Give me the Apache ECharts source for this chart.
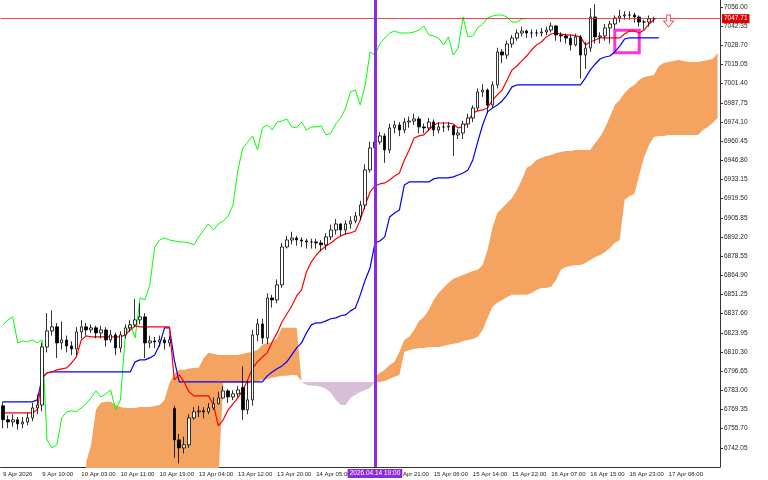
<!DOCTYPE html>
<html><head><meta charset="utf-8">
<script src="https://cdn.jsdelivr.net/npm/echarts@6/dist/echarts.min.js"></script>
<style>html,body{margin:0;padding:0;background:#fff}#c{width:768px;height:480px}</style>
</head><body><div id="c"></div>
<script>
const tickLabels = ["9 Apr 2026","9 Apr 10:00","10 Apr 03:00","10 Apr 11:00","10 Apr 19:00","13 Apr 04:00","13 Apr 12:00","13 Apr 20:00","14 Apr 05:00","14 Apr 13:00","14 Apr 21:00","15 Apr 06:00","15 Apr 14:00","15 Apr 22:00","16 Apr 07:00","16 Apr 15:00","16 Apr 23:00","17 Apr 08:00",""];
const barCount = 147;
const closeV = [6762.0,6760.5,6762.0,6759.1,6760.5,6763.4,6770.5,6772.6,6813.9,6825.3,
6828.2,6816.8,6818.9,6814.6,6812.5,6824.6,6828.2,6826.0,6827.5,6823.9,
6826.0,6818.9,6822.5,6813.2,6822.5,6827.5,6829.6,6833.2,6835.3,6816.8,
6818.2,6817.5,6818.9,6816.8,6818.9,6747.7,6742.0,6744.2,6763.4,6767.7,
6768.4,6767.7,6770.5,6773.4,6777.6,6782.6,6778.3,6780.5,6783.3,6769.1,
6776.2,6822.5,6830.3,6820.3,6848.8,6847.4,6858.1,6885.1,6890.1,6891.5,
6890.1,6889.4,6888.7,6888.7,6888.0,6886.6,6892.3,6897.2,6901.5,6897.2,
6901.5,6903.6,6907.2,6915.0,6940.0,6955.6,6959.9,6964.2,6954.2,6969.9,
6972.0,6968.4,6974.1,6974.8,6976.3,6970.6,6969.9,6974.1,6968.4,6970.6,
6970.6,6971.3,6964.9,6966.3,6972.7,6977.0,6984.1,6995.5,6996.9,6986.2,
7000.5,7024.0,7021.8,7029.7,7033.9,7037.5,7038.9,7037.5,7037.5,7037.5,
7038.2,7039.6,7042.5,7036.1,7035.4,7033.9,7029.0,7034.7,7021.8,7026.8,
7048.9,7034.7,7035.4,7041.1,7043.9,7048.2,7049.6,7050.3,7050.3,7048.9,
7045.3,7045.3,7047.5,7047.71];
const openV = [6772.0,6762.0,6760.5,6762.0,6759.1,6760.5,6763.4,6770.5,6772.6,6813.9,
6825.3,6828.2,6816.8,6818.9,6814.6,6812.5,6824.6,6828.2,6826.0,6827.5,
6823.9,6826.0,6818.9,6822.5,6813.2,6822.5,6827.5,6829.6,6833.2,6835.3,
6816.8,6818.2,6817.5,6818.9,6816.8,6770.0,6747.7,6742.0,6744.2,6763.4,
6767.7,6768.4,6767.7,6770.5,6773.4,6777.6,6782.6,6778.3,6780.5,6785.0,
6769.1,6776.2,6822.5,6830.3,6820.3,6848.8,6847.4,6858.1,6885.1,6890.1,
6891.5,6890.1,6889.4,6888.7,6888.7,6888.0,6886.6,6892.3,6897.2,6901.5,
6897.2,6901.5,6903.6,6907.2,6915.0,6940.0,6955.6,6959.9,6964.2,6954.2,
6969.9,6972.0,6968.4,6974.1,6974.8,6976.3,6970.6,6969.9,6974.1,6968.4,
6970.6,6970.6,6971.3,6964.9,6966.3,6972.7,6977.0,6984.1,6995.5,6996.9,
6986.2,7000.5,7024.0,7021.8,7029.7,7033.9,7037.5,7038.9,7037.5,7037.5,
7037.5,7038.2,7039.6,7042.5,7036.1,7035.4,7033.9,7029.0,7034.7,7021.8,
7026.8,7048.9,7034.7,7035.4,7041.1,7043.9,7048.2,7049.6,7050.3,7050.3,
7048.9,7045.3,7045.3,7047.5];
const highV = [6775,6765,6766,6764,6764,6767,6774,6780,6817,6838,
6840,6831,6832,6822,6818,6828,6833,6831,6830,6829,
6829,6828,6826,6824,6825,6830,6833,6848,6845,6838,
6822,6821,6822,6821,6822,6772,6752,6750,6766,6771,
6772,6771,6774,6778,6782,6786,6784,6783,6786,6800,
6790,6826,6834,6834,6852,6851,6862,6888,6893,6896,
6893,6892,6891,6891,6891,6890,6895,6901,6905,6902,
6904,6907,6910,6918,6944,6960,6966,6967,6966,6973,
6975,6974,6977,6978,6980,6978,6973,6977,6976,6974,
6974,6974,6972,6969,6975,6980,6986,6998,7001,6998,
7003,7027,7026,7032,7036,7040,7042,7040,7040,7040,
7041,7042,7045,7043,7038,7037,7036,7037,7036,7031,
7055,7058,7038,7044,7046,7050,7054,7053,7053,7052,
7050,7047,7050,7049];
const lowV = [6756,6756,6757,6755,6756,6758,6761,6766,6768,6810,
6822,6806,6812,6810,6808,6808,6820,6822,6824,6820,
6820,6814,6817,6808,6810,6820,6825,6828,6830,6806,
6813,6813,6814,6812,6814,6735,6731,6738,6742,6762,
6764,6763,6766,6769,6773,6777,6774,6776,6778,6762,
6766,6772,6818,6816,6816,6842,6845,6856,6884,6887,
6886,6885,6884,6884,6884,6882,6883,6890,6894,6893,
6894,6898,6902,6904,6912,6938,6953,6958,6945,6952,
6966,6964,6966,6970,6972,6966,6966,6968,6964,6966,
6967,6968,6950,6962,6962,6970,6974,6982,6992,6980,
6984,6998,7016,7019,7027,7032,7035,7034,7034,7035,
7035,7036,7038,7032,7031,7030,7025,7028,7005,7012,
7024,7030,7030,7032,7030,7040,7045,7047,7047,7045,
7042,7040,7042,7045];
const tenkanV = [6766.9,6766.9,6766.9,6766.9,6766.9,6766.9,6766.9,6769.1,6791.9,6795.4,
6796.1,6797.6,6798.3,6799.0,6802.5,6806.8,6818.9,6821.8,6821.1,6821.1,
6821.1,6821.1,6821.1,6821.1,6821.1,6822.5,6826.0,6828.9,6828.2,6828.2,
6828.2,6828.2,6828.2,6828.2,6828.2,6790.4,6794.0,6789.0,6781.9,6779.1,
6779.1,6779.1,6779.1,6772.6,6757.7,6762.0,6769.1,6773.4,6777.6,6783.3,
6790.4,6799.0,6803.3,6806.8,6809.7,6817.5,6823.9,6831.7,6837.4,6843.1,
6850.2,6854.5,6867.3,6874.5,6879.4,6883.0,6885.8,6888.0,6890.8,6893.0,
6894.4,6895.1,6896.5,6904.4,6915.0,6924.3,6928.6,6930.0,6930.7,6932.8,
6935.7,6937.8,6947.1,6954.2,6962.7,6964.2,6964.9,6968.4,6972.0,6973.4,
6973.4,6973.4,6972.7,6969.9,6970.6,6974.1,6980.5,6982.0,6982.7,6984.1,
6989.8,6993.4,6996.9,7004.0,7011.2,7014.0,7017.6,7021.1,7025.4,7029.0,
7031.1,7034.7,7036.8,7037.5,7036.8,7036.1,7036.1,7035.4,7034.7,7029.0,
7031.1,7032.5,7034.0,7034.0,7034.0,7034.0,7034.0,7036.8,7038.9,7038.9,
7037.5,7039.6,7043.9,7046.7];
const kijunV = [6774.8,6774.8,6774.8,6774.8,6774.8,6774.8,6774.8,6776.2,6791.9,6795.4,
6796.1,6796.1,6796.1,6796.1,6796.1,6796.1,6796.1,6796.1,6796.1,6796.1,
6796.1,6796.1,6796.1,6796.1,6796.1,6796.1,6796.1,6803.3,6804.7,6804.7,
6806.1,6808.2,6815.4,6827.5,6827.5,6804.7,6789.0,6789.0,6789.0,6789.0,
6789.0,6789.0,6789.0,6789.0,6789.0,6789.0,6789.0,6789.0,6789.0,6789.0,
6789.0,6789.0,6789.0,6789.0,6793.3,6796.1,6798.3,6800.4,6803.3,6808.2,
6813.2,6816.8,6823.9,6829.6,6831.1,6831.1,6832.5,6834.0,6834.6,6836.1,
6836.7,6839.6,6841.7,6851.0,6861.6,6870.2,6888.0,6889.4,6892.3,6906.5,
6909.3,6911.5,6929.3,6931.4,6931.4,6931.4,6931.4,6931.4,6933.6,6934.3,
6934.3,6934.3,6935.0,6936.4,6937.8,6940.0,6947.1,6959.9,6972.0,6981.3,
6984.1,6986.2,6989.1,6993.4,6999.1,7000.5,7000.5,7000.5,7000.5,7000.5,
7000.5,7000.5,7000.5,7000.5,7000.5,7000.5,7000.5,7000.5,7000.5,7005.5,
7011.2,7015.4,7019.0,7020.4,7021.1,7024.0,7028.2,7033.2,7034.0,7034.0,
7034.0,7034.0,7034.0,7034.0,7034.0];
const cloud1Start = 17;
const cloud1Top = [6732.1,6744.2,6769.1,6774.1,6774.8,6774.8,6772.6,6771.2,6770.5,6770.5,
6770.5,6771.2,6771.2,6771.2,6771.9,6772.6,6776.2,6788.3,6794.7,6797.6,
6797.6,6798.3,6799.0,6799.0,6806.1,6809.7,6809.0,6808.2,6808.2,6808.2,
6808.2,6808.2,6809.0,6809.7,6810.4,6811.8,6815.4,6816.8,6817.5,6820.3,
6827.5,6827.5,6827.5,6827.5,6789.7];
const cloud1Bot = [6720,6720,6720,6720,6720,6720,6720,6720,6720,6720,
6720,6720,6720,6720,6720,6720,6720,6720,6720,6720,
6720,6720,6720,6720,6720,6720,6720,6720,6788.3,6788.3,
6788.3,6788.3,6788.3,6788.3,6789.0,6789.7,6790.4,6791.1,6791.9,6792.6,
6793.3,6793.3,6794.0,6794.0,6789.7];
const cloudBearStart = 61;
const cloudBearTop = [6789.0,6789.0,6789.0,6789.0,6789.0,6789.0,6789.0,6789.0,6789.0,6789.0,6789.0,6789.0,6789.0,6789.0,6789.0,6789.0];
const cloudBearBot = [6789.0,6786.9,6786.2,6786.2,6785.5,6784.0,6781.2,6776.2,6772.6,6772.6,6777.6,6779.8,6781.9,6783.3,6784.7,6788.3];
const cloud2Start = 76;
const cloud2Top = [6792.6,6795.4,6797.6,6801.1,6803.3,6810.4,6818.9,6821.1,6826.0,6832.4,
6835.3,6840.3,6847.4,6852.4,6855.9,6859.5,6862.4,6863.8,6865.2,6866.6,
6868.0,6868.8,6872.3,6883.0,6898.7,6909.3,6912.9,6916.5,6920.0,6925.7,
6932.8,6941.4,6943.5,6947.1,6948.5,6949.9,6950.6,6952.1,6952.8,6953.5,
6953.5,6954.2,6954.2,6954.2,6954.2,6959.2,6963.5,6969.9,6977.7,6986.2,
6989.8,6994.8,6998.3,7000.5,7004.0,7006.2,7006.9,7007.6,7014.0,7016.1,
7016.9,7017.6,7018.3,7017.6,7016.9,7016.9,7016.9,7017.6,7018.3,7019.0,7023.3];
const cloud2Bot = [6788.3,6789.0,6789.7,6791.1,6792.6,6794.0,6810.4,6811.8,6812.5,6813.2,
6813.2,6813.9,6813.9,6813.9,6814.6,6815.4,6816.1,6816.8,6818.2,6818.9,
6819.6,6821.1,6826.0,6834.6,6842.4,6845.3,6847.4,6849.5,6851.0,6851.0,
6851.0,6851.0,6852.4,6854.5,6855.9,6855.9,6856.7,6861.6,6868.8,6870.9,
6871.6,6872.3,6872.3,6873.7,6875.9,6878.0,6879.4,6881.6,6884.4,6888.0,
6890.1,6918.6,6921.4,6922.9,6936.4,6949.2,6957.8,6963.5,6964.2,6964.2,
6964.9,6964.9,6964.9,6964.9,6964.9,6964.9,6964.9,6968.4,6970.6,6973.4,6977.0];
const chikouShift = 26;
const currentPrice = 7047.71;
const markerBar = 76, markerLabel = "2026.04.14 19:00";

const cats = [];
for (let i = 0; i < barCount; i++) cats.push(i % 8 === 0 ? tickLabels[i / 8] : String(i));
function pad(start, arr) { const a = new Array(barCount).fill('-'); arr.forEach((v, k) => a[start + k] = v); return a; }
function band(start, top, bot) { return pad(start, top.map((t, k) => +(t - bot[k]).toFixed(2))); }
const candles = closeV.map((c, i) => [openV[i], c, lowV[i], highV[i]]);
const chikou = cats.map((_, j) => (j + chikouShift < closeV.length ? closeV[j + chikouShift] : '-'));
const orange = '#f4a460', purple = '#d8bfd8';
function cloudPair(name, start, top, bot, color) {
  return [
    { type: 'line', name: name + 'b', stack: name, data: pad(start, bot), symbol: 'none', lineStyle: { opacity: 0 }, z: 1, silent: true },
    { type: 'line', name: name, stack: name, data: band(start, top, bot), symbol: 'none', lineStyle: { opacity: 0 }, areaStyle: { color: color, opacity: 1 }, z: 1, silent: true }
  ];
}
const chart = echarts.init(document.getElementById('c'));
chart.setOption({
  animation: false,
  backgroundColor: '#fff',
  textStyle: { fontFamily: 'Liberation Sans' },
  grid: { left: 0, right: 48, top: 0, bottom: 13 },
  xAxis: {
    type: 'category', data: cats, boundaryGap: true,
    axisLine: { lineStyle: { color: '#333' } },
    axisTick: { interval: 7, length: 3, lineStyle: { color: '#333' } },
    axisLabel: { interval: 7, fontSize: 6, color: '#222', align: 'left', margin: 4,
      formatter: v => (isNaN(+v) ? v : '') },
    splitLine: { show: false }
  },
  yAxis: {
    type: 'value', position: 'right', min: 6728.4, max: 7061, interval: 13.65,
    axisLine: { show: true, lineStyle: { color: '#333' } },
    axisTick: { show: true, length: 3, lineStyle: { color: '#333' } },
    axisLabel: { fontSize: 6.5, color: '#222', margin: 4, showMinLabel: false, showMaxLabel: false,
      formatter: v => v.toFixed(2) },
    splitLine: { show: false }
  },
  series: [
    ...cloudPair('c1', cloud1Start, cloud1Top, cloud1Bot, orange),
    ...cloudPair('cb', cloudBearStart, cloudBearTop, cloudBearBot, purple),
    ...cloudPair('c2', cloud2Start, cloud2Top, cloud2Bot, orange),
    { type: 'line', name: 'chikou', data: chikou, symbol: 'none', lineStyle: { color: '#00ff00', width: 1 }, z: 3 },
    { type: 'line', name: 'kijun', data: kijunV, symbol: 'none', lineStyle: { color: '#0000ff', width: 1.2 }, z: 3 },
    { type: 'line', name: 'tenkan', data: tenkanV, symbol: 'none', lineStyle: { color: '#ff0000', width: 1.2 }, z: 3 },
    {
      type: 'candlestick', name: 'price', data: candles, barWidth: 3, z: 4,
      itemStyle: { color: '#ffffff', color0: '#000000', borderColor: '#000000', borderColor0: '#000000', borderWidth: 0.8 },
      markLine: {
        symbol: 'none', silent: true, animation: false,
        data: [
          { yAxis: currentPrice, lineStyle: { color: '#e02020', width: 0.8, type: 'solid' },
            label: { position: 'end', formatter: currentPrice.toFixed(2), backgroundColor: '#e00000', color: '#fff', fontSize: 6.5, padding: [1, 2], distance: 2 } },
          { xAxis: markerBar, lineStyle: { color: '#8a2be2', width: 3, type: 'solid' },
            label: { position: 'start', formatter: markerLabel, backgroundColor: '#8a2be2', color: '#fff', fontSize: 6.5, padding: [1, 2], distance: 2 } }
        ]
      },
      markArea: {
        silent: true,
        data: [[{ xAxis: 125, yAxis: 7023.5, itemStyle: { color: 'rgba(0,0,0,0)', borderColor: '#ff33dd', borderWidth: 3 } }, { xAxis: 130, yAxis: 7039.5 }]]
      },
      markPoint: {
        silent: true,
        data: [{ coord: [136, 7046], symbol: 'path://M3,0 L7,0 L7,6 L10,6 L5,12 L0,6 L3,6 Z', symbolSize: [10, 12],
          itemStyle: { color: '#fff', borderColor: '#ff5050', borderWidth: 1 }, label: { show: false } }]
      }
    }
  ]
});
</script></body></html>
